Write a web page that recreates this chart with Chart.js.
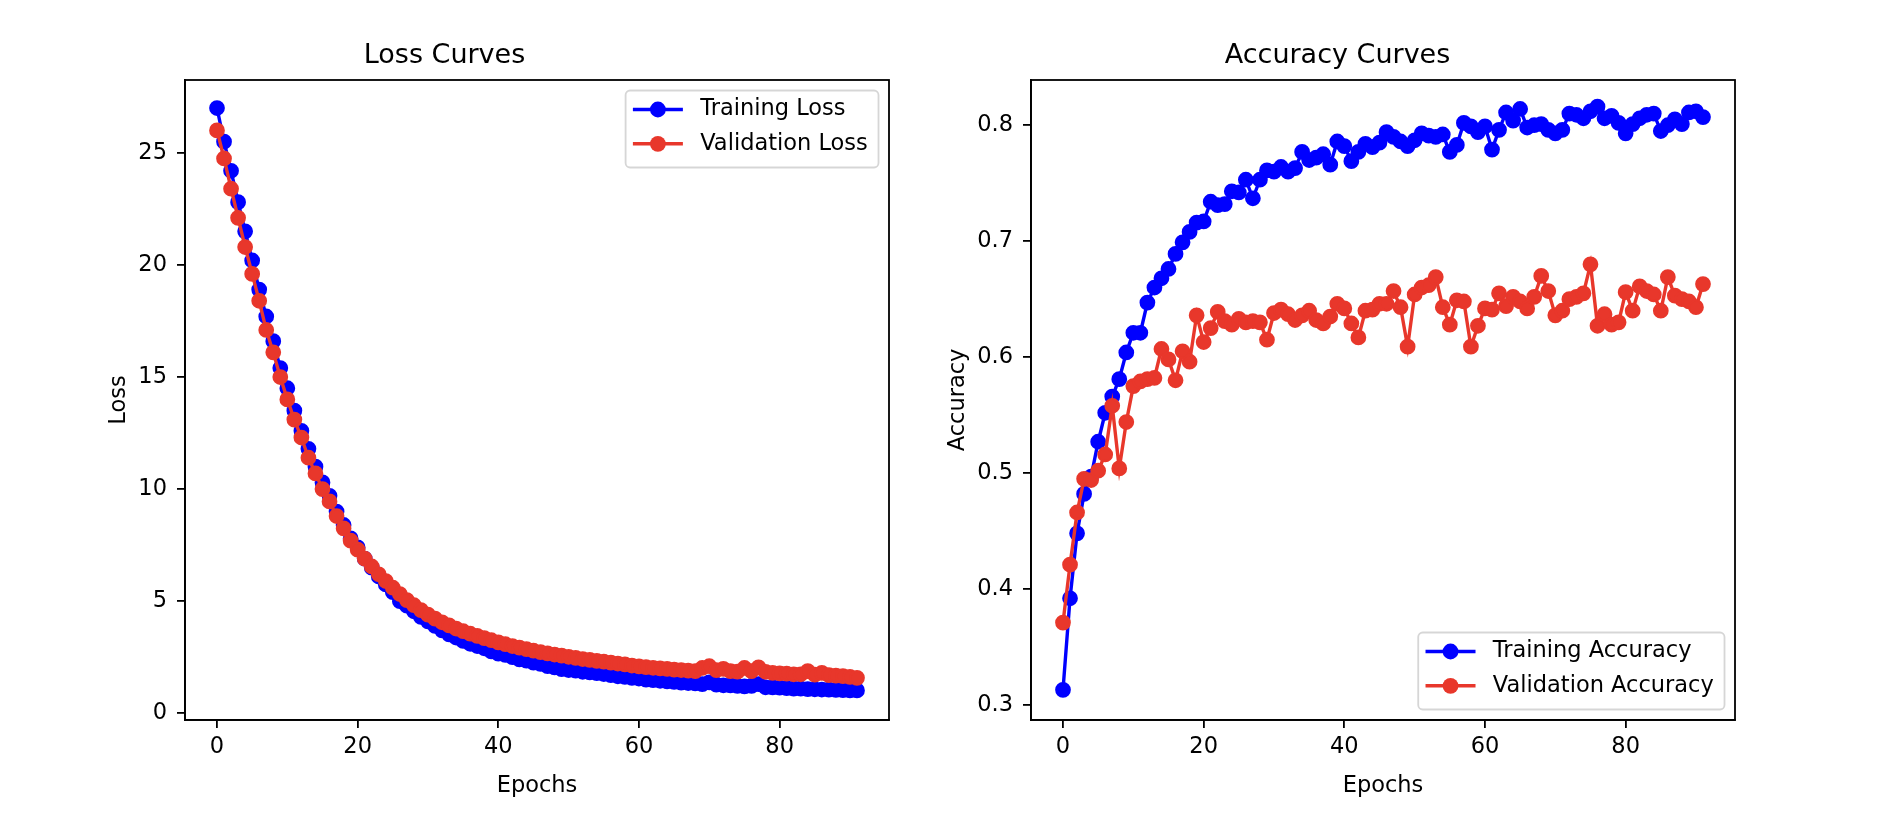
<!DOCTYPE html>
<html>
<head>
<meta charset="utf-8">
<title>Loss and Accuracy Curves</title>
<script src="https://cdn.jsdelivr.net/npm/chart.js@4/dist/chart.umd.min.js"></script>
<style>
  html, body { margin: 0; padding: 0; background: #fff; }
  .panel { position: absolute; top: 0; }
</style>
</head>
<body>
<canvas id="lossChart" class="panel" width="940" height="816" style="left:0"></canvas>
<canvas id="accChart" class="panel" width="940" height="816" style="left:940px"></canvas>
<script>
// values, one per epoch (0..91)
const trainLoss = [
  27.0, 25.5, 24.2, 22.8, 21.5, 20.2, 18.9, 17.7, 16.6, 15.4,
  14.5, 13.5, 12.6, 11.8, 11.0, 10.3, 9.7, 9.0, 8.4, 7.8,
  7.4, 6.9, 6.5, 6.1, 5.75, 5.4, 5.0, 4.8, 4.55, 4.3,
  4.1, 3.9, 3.7, 3.52, 3.38, 3.23, 3.1, 3.0, 2.9, 2.76,
  2.66, 2.6, 2.5, 2.4, 2.35, 2.26, 2.2, 2.1, 2.05, 1.97,
  1.93, 1.9, 1.85, 1.82, 1.79, 1.75, 1.7, 1.65, 1.62, 1.58,
  1.55, 1.5, 1.48, 1.45, 1.42, 1.4, 1.37, 1.35, 1.33, 1.3,
  1.38, 1.28, 1.25, 1.24, 1.22, 1.2, 1.22, 1.3, 1.16, 1.15,
  1.14, 1.12, 1.1, 1.1, 1.08, 1.07, 1.06, 1.05, 1.04, 1.03,
  1.02, 1.02,
];
const valLoss = [
  26.0, 24.75, 23.4, 22.1, 20.8, 19.6, 18.4, 17.1, 16.1, 15.0,
  14.0, 13.1, 12.3, 11.4, 10.7, 10.0, 9.45, 8.8, 8.25, 7.7,
  7.3, 6.9, 6.55, 6.2, 5.9, 5.6, 5.32, 5.05, 4.82, 4.6,
  4.4, 4.22, 4.06, 3.92, 3.78, 3.66, 3.55, 3.45, 3.35, 3.26,
  3.16, 3.08, 3.0, 2.93, 2.86, 2.79, 2.73, 2.67, 2.62, 2.57,
  2.52, 2.47, 2.42, 2.38, 2.34, 2.3, 2.26, 2.22, 2.18, 2.13,
  2.09, 2.06, 2.03, 2.0, 1.98, 1.95, 1.93, 1.9, 1.88, 2.02,
  2.1, 1.92, 1.98, 1.88, 1.86, 2.02, 1.88, 2.05, 1.85, 1.8,
  1.78, 1.77, 1.74, 1.74, 1.88, 1.72, 1.8, 1.7, 1.68, 1.66,
  1.62, 1.58,
];
const trainAcc = [
  0.313, 0.392, 0.448, 0.482, 0.497, 0.527, 0.552, 0.566, 0.581, 0.604,
  0.621, 0.621, 0.647, 0.660, 0.668, 0.676, 0.689, 0.699, 0.708, 0.716,
  0.717, 0.734, 0.731, 0.732, 0.743, 0.742, 0.753, 0.737, 0.753, 0.761,
  0.760, 0.764, 0.760, 0.763, 0.777, 0.770, 0.772, 0.775, 0.766, 0.786,
  0.782, 0.769, 0.777, 0.784, 0.781, 0.785, 0.794, 0.790, 0.786, 0.782,
  0.787, 0.793, 0.791, 0.790, 0.792, 0.777, 0.783, 0.802, 0.799, 0.794,
  0.799, 0.779, 0.796, 0.811, 0.804, 0.814, 0.798, 0.800, 0.801, 0.796,
  0.793, 0.796, 0.810, 0.809, 0.806, 0.812, 0.816, 0.806, 0.808, 0.802,
  0.793, 0.801, 0.806, 0.809, 0.810, 0.795, 0.800, 0.805, 0.801, 0.811,
  0.812, 0.807,
];
const valAcc = [
  0.371, 0.421, 0.466, 0.495, 0.494, 0.502, 0.516, 0.558, 0.504, 0.544,
  0.575, 0.579, 0.581, 0.582, 0.607, 0.598, 0.580, 0.605, 0.596, 0.636,
  0.613, 0.625, 0.639, 0.631, 0.628, 0.633, 0.630, 0.631, 0.630, 0.615,
  0.638, 0.641, 0.637, 0.632, 0.636, 0.640, 0.632, 0.629, 0.635, 0.646,
  0.642, 0.629, 0.617, 0.640, 0.641, 0.646, 0.646, 0.657, 0.643, 0.609,
  0.654, 0.660, 0.662, 0.669, 0.643, 0.628, 0.649, 0.648, 0.609, 0.627,
  0.642, 0.641, 0.655, 0.644, 0.652, 0.648, 0.642, 0.652, 0.670, 0.657,
  0.636, 0.640, 0.650, 0.652, 0.655, 0.680, 0.627, 0.637, 0.628, 0.630,
  0.656, 0.640, 0.661, 0.657, 0.654, 0.640, 0.669, 0.653, 0.650, 0.648,
  0.643, 0.663,
];
const epochs = trainLoss.map((_, i) => i);

const epochTicks = [0, 20, 40, 60, 80];
const lossTicks = [0, 5, 10, 15, 20, 25];
const accTicks = [0.3, 0.4, 0.5, 0.6, 0.7, 0.8];

const FONT = "'DejaVu Sans', sans-serif";
const BLUE = "#0000ff";
const RED = "#e8372b";
const INK = "#000";

Chart.defaults.font.family = FONT;
Chart.defaults.color = INK;

// marker face + 1pt edge in the same colour, as matplotlib draws 'o'
function series(label, values, color, order) {
  return {
    label,
    data: epochs.map((e, i) => ({ x: e, y: values[i] })),
    borderColor: color,
    backgroundColor: color,
    pointBackgroundColor: color,
    pointBorderColor: color,
    borderWidth: 3.4,
    pointRadius: 6.75,
    pointHoverRadius: 6.75,
    pointBorderWidth: 2.25,
    tension: 0,
    order,
  };
}

// matplotlib style box round the plot area
const frame = {
  id: "frame",
  afterDatasetsDraw(chart) {
    const { ctx, chartArea: a } = chart;
    ctx.save();
    ctx.strokeStyle = INK;
    ctx.lineWidth = 1.8;
    ctx.strokeRect(a.left, a.top, a.right - a.left, a.bottom - a.top);
    ctx.restore();
  },
};

// legend drawn inside the axes, like loc="upper right" / "lower right"
function insetLegend(corner) {
  return {
    id: "insetLegend",
    afterDraw(chart) {
      const { ctx, chartArea: a } = chart;
      const sets = chart.data.datasets;
      ctx.save();
      ctx.font = `22.5px ${FONT}`;
      const textW = Math.max(...sets.map((d) => ctx.measureText(d.label).width));
      const w = 85.3 + textW;
      const h = 77;
      const gap = 10.5;
      const x = a.right - gap - w;
      const y = corner === "upper" ? a.top + gap : a.bottom - gap - h;
      ctx.beginPath();
      ctx.roundRect(x, y, w, h, 4.5);
      ctx.fillStyle = "rgba(255,255,255,0.8)";
      ctx.fill();
      ctx.strokeStyle = "rgba(204,204,204,0.8)";
      ctx.lineWidth = 1.8;
      ctx.stroke();
      sets.forEach((d, i) => {
        const cy = y + 19 + i * 34.3;
        ctx.strokeStyle = d.borderColor;
        ctx.lineWidth = 3.4;
        ctx.beginPath();
        ctx.moveTo(x + 7.3, cy);
        ctx.lineTo(x + 57.3, cy);
        ctx.stroke();
        ctx.fillStyle = d.borderColor;
        ctx.beginPath();
        ctx.arc(x + 32.3, cy, 7.9, 0, Math.PI * 2);
        ctx.fill();
        ctx.fillStyle = INK;
        ctx.textBaseline = "middle";
        ctx.textAlign = "left";
        ctx.fillText(d.label, x + 74.6, cy);
      });
      ctx.restore();
    },
  };
}

const axisGrid = {
  display: true,
  drawOnChartArea: false,
  drawTicks: true,
  tickLength: 8,
  tickWidth: 1.8,
  tickColor: INK,
  lineWidth: 1.8,
  color: INK,
};
const axisBorder = { display: true, color: INK, width: 1.8 };
const tickFont = { family: FONT, size: 22.5 };

function panel(id, o) {
  return new Chart(document.getElementById(id), {
    type: "line",
    data: { datasets: o.datasets },
    options: {
      responsive: false,
      animation: false,
      devicePixelRatio: 1,
      events: [],
      layout: { padding: { left: 0, top: 0, bottom: 0, right: o.padRight } },
      plugins: {
        legend: { display: false },
        tooltip: { enabled: false },
        title: {
          display: true,
          text: o.title,
          color: INK,
          font: { family: FONT, size: 27, weight: "normal" },
          padding: { top: 39.8, bottom: 7.8 },
        },
      },
      scales: {
        x: {
          type: "linear",
          min: -4.55,
          max: 95.55,
          afterBuildTicks: (s) => { s.ticks = epochTicks.map((v) => ({ value: v })); },
          afterFit: (s) => { s.height = 96; },
          grid: axisGrid,
          border: axisBorder,
          ticks: { font: tickFont, color: INK, padding: 6, maxRotation: 0, autoSkip: false },
          title: { display: true, text: "Epochs", color: INK, font: tickFont, padding: { top: 0, bottom: 16.5 } },
        },
        y: {
          type: "linear",
          min: o.yMin,
          max: o.yMax,
          afterBuildTicks: (s) => { s.ticks = o.yTicks.map((v) => ({ value: v })); },
          afterFit: (s) => { s.width = o.yWidth; },
          grid: axisGrid,
          border: axisBorder,
          ticks: { font: tickFont, color: INK, padding: 10, autoSkip: false, callback: o.fmt },
          title: { display: true, text: o.yLabel, color: INK, font: tickFont, padding: { top: o.yTitlePad, bottom: 0 } },
        },
      },
    },
    plugins: [frame, insetLegend(o.legend)],
  });
}

panel("lossChart", {
  title: "Loss Curves",
  datasets: [
    series("Training Loss", trainLoss, BLUE, 1),
    series("Validation Loss", valLoss, RED, 0),
  ],
  yMin: -0.3,
  yMax: 28.25,
  yTicks: lossTicks,
  yLabel: "Loss",
  yWidth: 185,
  yTitlePad: 105.5,
  padRight: 51,
  legend: "upper",
  fmt: (v) => String(v),
});

panel("accChart", {
  title: "Accuracy Curves",
  datasets: [
    series("Training Accuracy", trainAcc, BLUE, 1),
    series("Validation Accuracy", valAcc, RED, 0),
  ],
  yMin: 0.287,
  yMax: 0.839,
  yTicks: accTicks,
  yLabel: "Accuracy",
  yWidth: 91,
  yTitlePad: 4.5,
  padRight: 145,
  legend: "lower",
  fmt: (v) => v.toFixed(1),
});
</script>
</body>
</html>
